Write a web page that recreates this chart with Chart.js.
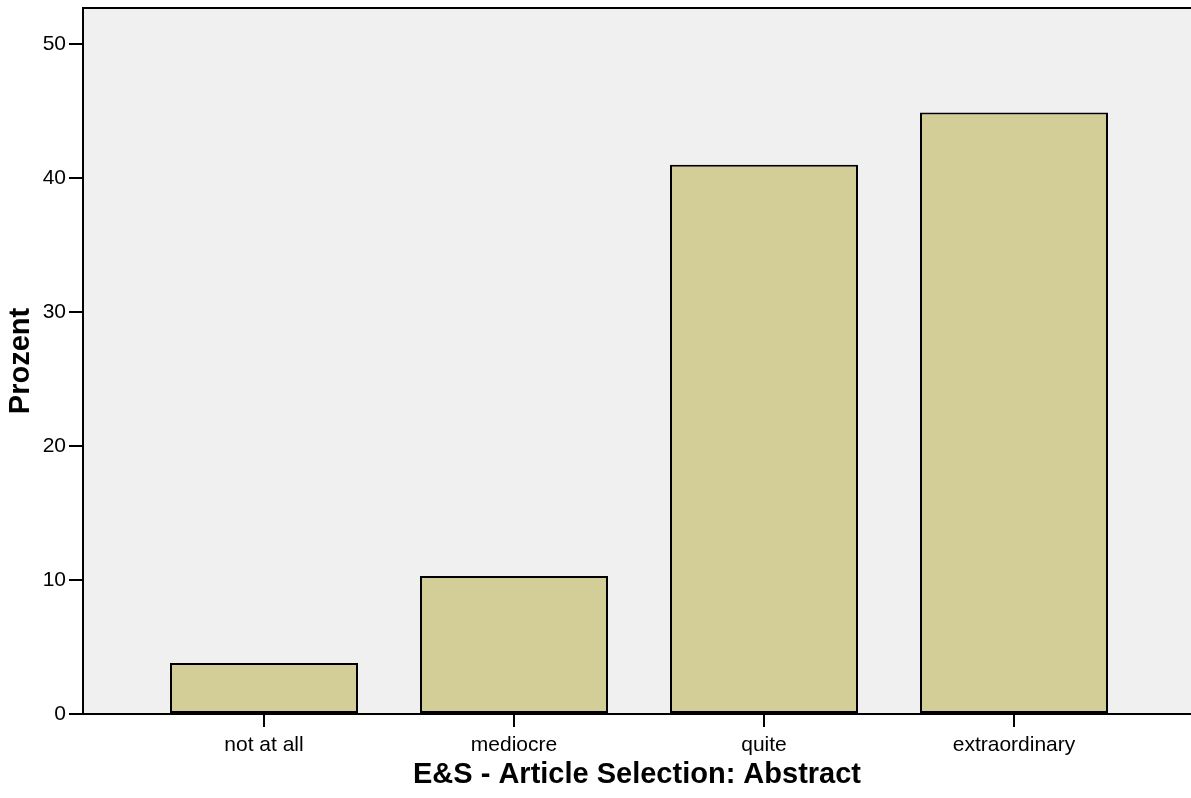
<!DOCTYPE html>
<html>
<head>
<meta charset="utf-8">
<script src="https://cdn.jsdelivr.net/npm/chart.js@4/dist/chart.umd.min.js"></script>
<style>
  html, body { margin: 0; padding: 0; background: #fff; }
  #wrap { width: 1191px; height: 798px; position: relative; }
</style>
</head>
<body>
<div id="wrap"><canvas id="myChart"></canvas></div>
<script>
// Daten
const categories = ["not at all", "mediocre", "quite", "extraordinary"];
const percentValues = [3.8, 10.3, 41.0, 44.9];
const yTickValues = [0, 10, 20, 30, 40, 50];

const FONT = "'Liberation Sans', Arial, sans-serif";

// grauer Hintergrund + obere Linie der Plotfläche
const plotFrame = {
    id: "plotFrame",
    beforeDraw(chart) {
        const a = chart.chartArea;
        const c = chart.ctx;
        c.save();
        c.fillStyle = "#f0f0f0";
        c.fillRect(a.left, a.top, a.right - a.left, a.bottom - a.top);
        c.restore();
    },
    afterDraw(chart) {
        const a = chart.chartArea;
        const c = chart.ctx;
        c.save();
        c.strokeStyle = "#000";
        c.lineWidth = 2;
        c.beginPath();
        c.moveTo(a.left - 1, a.top);
        c.lineTo(a.right, a.top);
        c.stroke();
        c.restore();
    }
};

const ctx = document.getElementById("myChart").getContext("2d");
const myChart = new Chart(ctx, {
    type: "bar",
    data: {
        datasets: [
            {
                label: "Prozent",
                data: categories.map((c, i) => ({ x: i, y: percentValues[i] })),
                backgroundColor: "#d3ce97",
                borderColor: "#000",
                borderWidth: 2,
                borderSkipped: false,
                barPercentage: 0.752,
                categoryPercentage: 1,
            },
        ],
    },
    options: {
        responsive: true,
        maintainAspectRatio: false,
        animation: false,
        layout: { padding: { top: 8, right: 0, left: 0, bottom: 0 } },
        plugins: {
            legend: { display: false },
            tooltip: { enabled: false },
        },
        scales: {
            x: {
                type: "linear",
                min: -0.724,
                max: 3.708,
                offset: false,
                afterBuildTicks: (scale) => {
                    scale.ticks = categories.map((c, i) => ({ value: i }));
                },
                afterFit: (scale) => {
                    scale.height = 84;
                    scale.paddingLeft = 0;
                    scale.paddingRight = 0;
                },
                grid: {
                    offset: false,
                    drawOnChartArea: false,
                    drawTicks: true,
                    tickLength: 13,
                    color: "#000",
                    lineWidth: 2,
                },
                border: { display: true, color: "#000", width: 2 },
                ticks: {
                    color: "#000",
                    font: { family: FONT, size: 21 },
                    padding: 6,
                    maxRotation: 0,
                    autoSkip: false,
                    callback: (v) => categories[v] ?? "",
                },
                title: {
                    display: true,
                    text: "E&S - Article Selection: Abstract",
                    color: "#000",
                    font: { family: FONT, size: 29, weight: "bold" },
                    padding: { top: 0, bottom: 6 },
                },
            },
            y: {
                min: 0,
                max: 52.7,
                afterBuildTicks: (scale) => {
                    scale.ticks = yTickValues.map((v) => ({ value: v }));
                },
                afterFit: (scale) => {
                    scale.width = 83;
                    scale.paddingTop = 0;
                    scale.paddingBottom = 0;
                },
                grid: {
                    drawOnChartArea: false,
                    drawTicks: true,
                    tickLength: 14,
                    color: "#000",
                    lineWidth: 2,
                },
                border: { display: true, color: "#000", width: 2 },
                ticks: {
                    color: "#000",
                    font: { family: FONT, size: 21 },
                    padding: 3,
                },
                title: {
                    display: true,
                    text: "Prozent",
                    color: "#000",
                    font: { family: FONT, size: 29, weight: "bold" },
                    padding: { top: 4, bottom: 0 },
                },
            },
        },
    },
    plugins: [plotFrame],
});
</script>
</body>
</html>
